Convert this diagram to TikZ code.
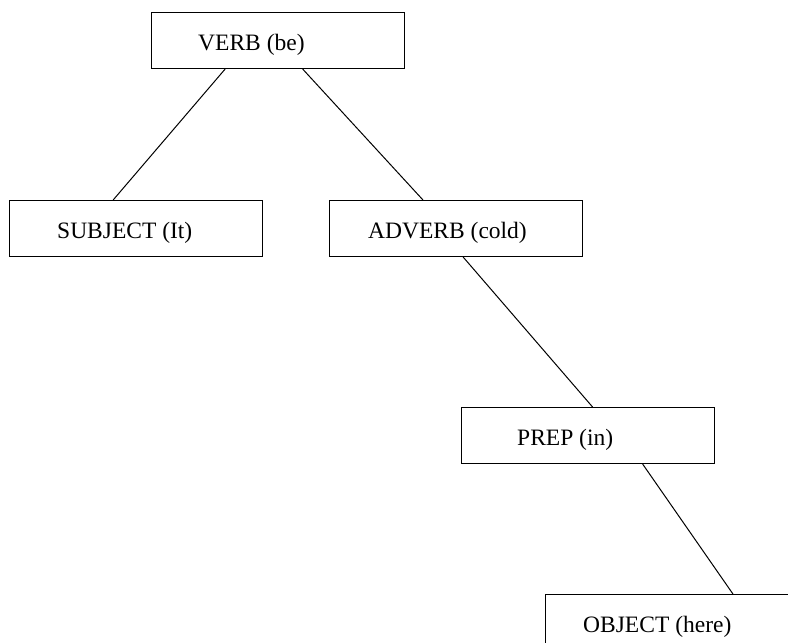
\documentclass[tikz,border=0pt]{standalone}
\usepackage{fontspec}
\setmainfont{Liberation Serif}
\usetikzlibrary{calc}

\tikzset{
  treebox/.style={draw, line width=1pt, rectangle, anchor=north west,
    minimum width=253pt, minimum height=56pt, inner sep=0pt},
  boxlabel/.style={anchor=base west, inner sep=0pt,
    font=\fontsize{23.5}{28}\selectfont},
  edge/.style={line width=1pt}
}

\begin{document}
\begin{tikzpicture}[x=1pt, y=-1pt]
  \useasboundingbox (0,0) rectangle (788,643);

  % boxes of the parse tree
  \node[treebox] (verb)    at (151,12)  {};
  \node[treebox] (subject) at (9,200)   {};
  \node[treebox] (adverb)  at (329,200) {};
  \node[treebox] (prep)    at (461,407) {};
  \node[treebox] (object)  at (545,594) {};

  % labels, set from each box's left edge
  \node[boxlabel] (verbtxt)    at ($(verb.north west)+(47,38)$)    {VERB (be)};
  \node[boxlabel] (subjecttxt) at ($(subject.north west)+(48,38)$) {SUBJECT (It)};
  \node[boxlabel] (adverbtxt)  at ($(adverb.north west)+(39,38)$)  {ADVERB (cold)};
  \node[boxlabel] (preptxt)    at ($(prep.north west)+(56,38)$)    {PREP (in)};
  \node[boxlabel] (objecttxt)  at ($(object.north west)+(38,38)$)  {OBJECT (here)};

  % branches
  \draw[edge] ($(verb.south west)!0.292!(verb.south east)$)
           -- ($(subject.north west)!0.41!(subject.north east)$);
  \draw[edge] ($(verb.south west)!0.597!(verb.south east)$)
           -- ($(adverb.north west)!0.37!(adverb.north east)$);
  \draw[edge] ($(adverb.south west)!0.528!(adverb.south east)$)
           -- ($(prep.north west)!0.518!(prep.north east)$);
  \draw[edge] ($(prep.south west)!0.715!(prep.south east)$)
           -- ($(object.north west)!0.74!(object.north east)$);
\end{tikzpicture}
\end{document}
